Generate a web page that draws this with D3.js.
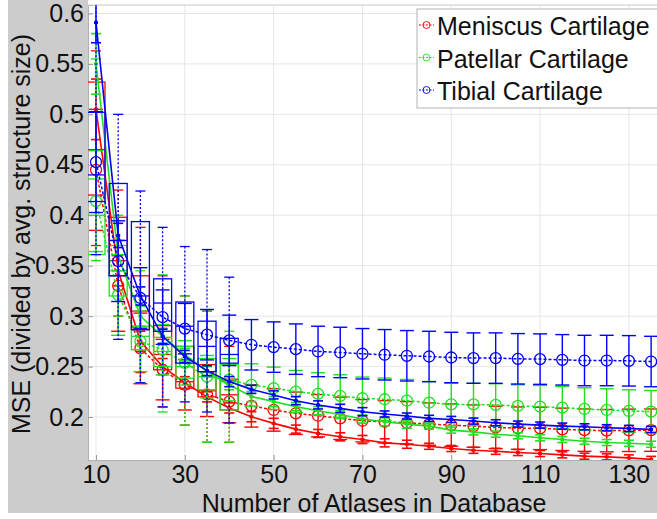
<!DOCTYPE html>
<html>
<head>
<meta charset="utf-8">
<script src="https://cdnjs.cloudflare.com/ajax/libs/d3/7.8.5/d3.min.js"></script>
<style>
body{margin:0;background:#fff;}
svg{display:block;font-family:"Liberation Sans",Arial,sans-serif;}
</style>
</head>
<body>
<svg id="chart" width="657" height="519"></svg>
<script>
/* data */
var atlasCounts = [10,15,20,25,30,35,40,45,50,55,60,65,70,75,80,85,90,95,100,105,110,115,120,125,130,135];
var boxAtlasCounts = [10,15,20,25,30,35,40];
var xTicks = [10,30,50,70,90,110,130];
var yTicks = [0.2,0.25,0.3,0.35,0.4,0.45,0.5,0.55,0.6];
var seriesNames = ["Meniscus Cartilage","Patellar Cartilage","Tibial Cartilage"];
var seriesColors = ["#ff0000","#1ee01e","#0000ff"];

// dotted line: mean +- std (circles)
var meniscusMean = [0.445,0.33,0.268,0.247,0.232,0.2225,0.2153,0.211,0.207,0.2037,0.2013,0.1987,0.1963,0.1953,0.1943,0.193,0.192,0.191,0.1897,0.189,0.1887,0.1878,0.187,0.1865,0.1868,0.187];
var meniscusStd = [0.06,0.045,0.035,0.03,0.025,0.022,0.021,0.021,0.021,0.021,0.021,0.021,0.021,0.021,0.021,0.021,0.021,0.021,0.021,0.021,0.021,0.021,0.021,0.021,0.021,0.021];
var patellarMean = [0.414,0.321,0.275,0.2667,0.2537,0.24,0.237,0.2318,0.2285,0.2252,0.2229,0.2209,0.2186,0.2176,0.2162,0.2142,0.2125,0.2125,0.212,0.211,0.2103,0.2093,0.208,0.207,0.206,0.2053];
var patellarStd = [0.05,0.04,0.03,0.025,0.022,0.021,0.021,0.021,0.021,0.021,0.021,0.021,0.021,0.021,0.021,0.021,0.021,0.021,0.021,0.021,0.021,0.021,0.021,0.021,0.021,0.021];
var tibialMean = [0.4527,0.3545,0.318,0.299,0.2876,0.2816,0.276,0.2716,0.2693,0.2673,0.265,0.264,0.2627,0.2617,0.2607,0.26,0.259,0.2584,0.2584,0.2577,0.2574,0.2567,0.256,0.256,0.2557,0.255];
var tibialStd = [0.05,0.04,0.03,0.027,0.025,0.025,0.025,0.025,0.025,0.025,0.025,0.025,0.025,0.025,0.025,0.025,0.025,0.025,0.025,0.025,0.025,0.025,0.025,0.025,0.025,0.025];

// solid line with small markers and small error bars
var meniscusFused = [0.505,0.345,0.275,0.25,0.234,0.22,0.209,0.2003,0.1937,0.188,0.1837,0.1804,0.1777,0.1744,0.173,0.171,0.1688,0.167,0.166,0.1648,0.1638,0.1625,0.1612,0.1605,0.1595,0.158];
var meniscusFusedErr = [0.03,0.015,0.01,0.008,0.006,0.005,0.005,0.005,0.005,0.004,0.004,0.004,0.004,0.004,0.004,0.003,0.003,0.003,0.003,0.003,0.003,0.003,0.003,0.003,0.003,0.003];
var patellarFused = [0.55,0.36,0.30,0.28,0.262,0.245,0.232,0.2203,0.2153,0.2103,0.2063,0.2025,0.198,0.1953,0.193,0.191,0.187,0.1853,0.183,0.1814,0.1794,0.1777,0.176,0.1747,0.174,0.173];
var patellarFusedErr = [0.03,0.015,0.01,0.008,0.006,0.005,0.005,0.005,0.005,0.004,0.004,0.004,0.004,0.004,0.004,0.003,0.003,0.003,0.003,0.003,0.003,0.003,0.003,0.003,0.003,0.003];
var tibialFused = [0.591,0.38,0.32,0.28,0.26,0.246,0.2351,0.2274,0.2219,0.2162,0.212,0.2086,0.2053,0.203,0.201,0.1987,0.1976,0.196,0.1943,0.193,0.192,0.191,0.1903,0.1894,0.1887,0.1877];
var tibialFusedErr = [0.02,0.012,0.009,0.007,0.006,0.005,0.005,0.004,0.004,0.004,0.004,0.004,0.004,0.003,0.003,0.003,0.003,0.003,0.003,0.003,0.003,0.003,0.003,0.003,0.003,0.003];

// boxplots [low whisker, q1, median, q3, high whisker]
var meniscusBox = [[0.37,0.42,0.465,0.532,0.563],[0.30,0.34,0.355,0.398,0.425],[0.244,0.2866,0.305,0.34,0.388],[0.21,0.2468,0.262,0.2906,0.34],[0.192,0.2286,0.235,0.27,0.32],[0.175,0.22,0.226,0.252,0.305],[0.175,0.207,0.222,0.2375,0.27]];
var patellarBox = [[0.355,0.361,0.40,0.436,0.555],[0.30,0.32,0.345,0.37,0.40],[0.234,0.2667,0.28,0.29,0.345],[0.205,0.25,0.265,0.279,0.341],[0.192,0.2385,0.25,0.27,0.32],[0.175,0.227,0.24,0.258,0.305],[0.175,0.207,0.235,0.252,0.285]];
var tibialBox = [[0.361,0.4136,0.44,0.502,0.63],[0.277,0.34,0.375,0.4315,0.5],[0.234,0.2866,0.32,0.3937,0.424],[0.21,0.285,0.313,0.337,0.388],[0.215,0.2534,0.29,0.314,0.369],[0.205,0.245,0.27,0.295,0.366],[0.194,0.2534,0.262,0.278,0.3386]];

var series = [
  {name: seriesNames[0], color: seriesColors[0], mean: meniscusMean, std: meniscusStd, fused: meniscusFused, fusedErr: meniscusFusedErr, box: meniscusBox},
  {name: seriesNames[1], color: seriesColors[1], mean: patellarMean, std: patellarStd, fused: patellarFused, fusedErr: patellarFusedErr, box: patellarBox},
  {name: seriesNames[2], color: seriesColors[2], mean: tibialMean, std: tibialStd, fused: tibialFused, fusedErr: tibialFusedErr, box: tibialBox}
];

var plotLeft = 88, plotTop = 5, plotRight = 660, plotBottom = 460;

var svg = d3.select("#chart");

var x = d3.scaleLinear().domain([8.2, 137]).range([plotLeft, plotRight]);
var y = d3.scaleLinear().domain([0.1574, 0.6084]).range([plotBottom, plotTop]);

// gray figure background
svg.append("rect").attr("x", 8).attr("y", 0).attr("width", 649).attr("height", 513).attr("fill", "#cccccc");
svg.append("rect").attr("x", plotLeft).attr("y", 0).attr("width", 657 - plotLeft).attr("height", plotBottom).attr("fill", "#fff");

svg.append("clipPath").attr("id", "plotclip")
  .append("rect").attr("x", plotLeft).attr("y", plotTop).attr("width", plotRight - plotLeft).attr("height", plotBottom - plotTop);

// grid
var grid = svg.append("g").attr("stroke", "#e6e6e6").attr("stroke-width", 1);
grid.selectAll(".vg").data(xTicks).enter().append("line")
  .attr("x1", function(d){ return x(d); }).attr("x2", function(d){ return x(d); })
  .attr("y1", plotTop).attr("y2", plotBottom);
grid.selectAll(".hg").data(yTicks).enter().append("line")
  .attr("x1", plotLeft).attr("x2", plotRight)
  .attr("y1", function(d){ return y(d); }).attr("y2", function(d){ return y(d); });

// axes (MATLAB style: ticks inside, labels outside)
var yAxis = d3.axisLeft(y).tickValues(yTicks).tickSize(-5).tickPadding(5)
  .tickFormat(function(d){ return String(+d.toFixed(2)); });
var gy = svg.append("g").attr("transform", "translate(" + plotLeft + ",0)").call(yAxis);
var xAxis = d3.axisBottom(x).tickValues(xTicks).tickSize(-5).tickPadding(7);
var gx = svg.append("g").attr("transform", "translate(0," + plotBottom + ")").call(xAxis);
[gx, gy].forEach(function(g){
  g.select(".domain").attr("stroke", "#b0b0b0");
  g.selectAll(".tick line").attr("stroke", "#999");
  g.selectAll(".tick text").attr("fill", "#111").style("font-size", "25px");
});
gy.selectAll(".tick text").attr("x", -4);
gx.selectAll(".tick text").attr("dy", "0.62em");
// top border
svg.append("line").attr("x1", plotLeft).attr("x2", plotRight).attr("y1", plotTop).attr("y2", plotTop).attr("stroke", "#c8c8c8");

svg.append("text").attr("x", 374).attr("y", 512).attr("text-anchor", "middle")
  .style("font-size", "25px").attr("fill", "#111").text("Number of Atlases in Database");
svg.append("text").attr("transform", "translate(30,234) rotate(-90)").attr("text-anchor", "middle")
  .style("font-size", "25px").attr("fill", "#111").text("MSE (divided by avg. structure size)");

var plot = svg.append("g").attr("clip-path", "url(#plotclip)");

var boxHalf = 9, whiskCap = 5, meanCap = 7, fusedCap = 5;

series.forEach(function(s){
  var g = plot.append("g").attr("stroke", s.color).attr("fill", "none");

  // boxplots
  var bx = g.selectAll(".box").data(s.box).enter().append("g");
  bx.append("rect")
    .attr("x", function(d, i){ return x(boxAtlasCounts[i]) - boxHalf; })
    .attr("width", boxHalf * 2)
    .attr("y", function(d){ return y(d[3]); })
    .attr("height", function(d){ return y(d[1]) - y(d[3]); })
    .attr("stroke-width", 1.3);
  bx.append("line")
    .attr("x1", function(d, i){ return x(boxAtlasCounts[i]) - boxHalf; })
    .attr("x2", function(d, i){ return x(boxAtlasCounts[i]) + boxHalf; })
    .attr("y1", function(d){ return y(d[2]); }).attr("y2", function(d){ return y(d[2]); })
    .attr("stroke-width", 1.3);
  bx.append("line")
    .attr("x1", function(d, i){ return x(boxAtlasCounts[i]); })
    .attr("x2", function(d, i){ return x(boxAtlasCounts[i]); })
    .attr("y1", function(d){ return y(d[4]); }).attr("y2", function(d){ return y(d[0]); })
    .attr("stroke-width", 1.3).attr("stroke-dasharray", "2,2");
  [0, 4].forEach(function(k){
    bx.append("line")
      .attr("x1", function(d, i){ return x(boxAtlasCounts[i]) - whiskCap; })
      .attr("x2", function(d, i){ return x(boxAtlasCounts[i]) + whiskCap; })
      .attr("y1", function(d){ return y(d[k]); }).attr("y2", function(d){ return y(d[k]); })
      .attr("stroke-width", 1.3);
  });

  // dotted mean line with std error bars and circles
  var meanLine = d3.line().x(function(d, i){ return x(atlasCounts[i]); }).y(function(d){ return y(d); });
  g.append("path").attr("d", meanLine(s.mean)).attr("stroke-width", 1.5).attr("stroke-dasharray", "3,2");
  var eb = g.selectAll(".eb").data(s.mean).enter().append("g");
  eb.append("line")
    .attr("x1", function(d, i){ return x(atlasCounts[i]); }).attr("x2", function(d, i){ return x(atlasCounts[i]); })
    .attr("y1", function(d, i){ return y(d + s.std[i]); }).attr("y2", function(d, i){ return y(d - s.std[i]); })
    .attr("stroke-width", 1.4);
  [1, -1].forEach(function(sg){
    eb.append("line")
      .attr("x1", function(d, i){ return x(atlasCounts[i]) - meanCap; })
      .attr("x2", function(d, i){ return x(atlasCounts[i]) + meanCap; })
      .attr("y1", function(d, i){ return y(d + sg * s.std[i]); }).attr("y2", function(d, i){ return y(d + sg * s.std[i]); })
      .attr("stroke-width", 1.4);
  });
  eb.append("circle")
    .attr("cx", function(d, i){ return x(atlasCounts[i]); })
    .attr("cy", function(d){ return y(d); })
    .attr("r", 5.5).attr("stroke-width", 1.3);

  // solid line with small error bars
  g.append("path").attr("d", meanLine(s.fused)).attr("stroke-width", 1.6);
  var fb = g.selectAll(".fb").data(s.fused).enter().append("g");
  fb.append("line")
    .attr("x1", function(d, i){ return x(atlasCounts[i]); }).attr("x2", function(d, i){ return x(atlasCounts[i]); })
    .attr("y1", function(d, i){ return y(d + s.fusedErr[i]); }).attr("y2", function(d, i){ return y(d - s.fusedErr[i]); })
    .attr("stroke-width", 1.4);
  [1, -1].forEach(function(sg){
    fb.append("line")
      .attr("x1", function(d, i){ return x(atlasCounts[i]) - fusedCap; })
      .attr("x2", function(d, i){ return x(atlasCounts[i]) + fusedCap; })
      .attr("y1", function(d, i){ return y(d + sg * s.fusedErr[i]); }).attr("y2", function(d, i){ return y(d + sg * s.fusedErr[i]); })
      .attr("stroke-width", 1.6);
  });
  fb.append("rect")
    .attr("x", function(d, i){ return x(atlasCounts[i]) - 2; })
    .attr("y", function(d){ return y(d) - 1.5; })
    .attr("width", 4).attr("height", 3)
    .attr("fill", s.color).attr("stroke", "none");
});

// legend
var legend = svg.append("g");
legend.append("rect").attr("x", 417).attr("y", 9).attr("width", 250).attr("height", 99)
  .attr("fill", "#fff").attr("stroke", "#b4b4b4");
var li = legend.selectAll(".li").data(series).enter().append("g")
  .attr("transform", function(d, i){ return "translate(0," + (25 + i * 32.5) + ")"; });
li.append("line").attr("x1", 419).attr("x2", 434).attr("y1", 0).attr("y2", 0)
  .attr("stroke", function(d){ return d.color; }).attr("stroke-width", 1).attr("stroke-dasharray", "2,1.5");
li.append("circle").attr("cx", 426.5).attr("cy", 0).attr("r", 3.5)
  .attr("fill", "none").attr("stroke", function(d){ return d.color; }).attr("stroke-width", 0.9);
li.append("text").attr("x", 437).attr("y", 10).style("font-size", "25px").attr("fill", "#111")
  .text(function(d){ return d.name; });
</script>
</body>
</html>
